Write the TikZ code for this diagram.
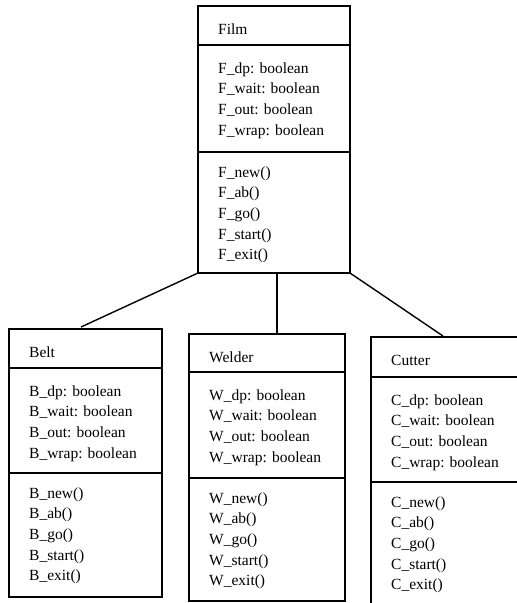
\documentclass[tikz,border=0pt]{standalone}
\usepackage{fontspec}
\setmainfont{Liberation Serif}
\newcommand\umlclass[9]{%
  % #1 name, #2 left, #3 right, #4 top, #5 div1, #6 div2, #7 bottom, #8 letter, #9 title
  \node[box, minimum width={#3-#2}, minimum height={#7-#4}] (#1) at (#2,#4) {};
  \draw[rule] (#2,#5) -- (#3,#5);
  \draw[rule] (#2,#6) -- (#3,#6);
  \node[txt] (#1-title) at ({#2+20},{#4+28.5}) {#9};
  \foreach \t [count=\i from 0] in {#8\_dp: boolean, #8\_wait: boolean, #8\_out: boolean, #8\_wrap: boolean}
    \node[txt] (#1-a\i) at ({#2+20},{#5+28+20.7*\i}) {\t};
  \foreach \t [count=\i from 0] in {#8\_new(), #8\_ab(), #8\_go(), #8\_start(), #8\_exit()}
    \node[txt] (#1-m\i) at ({#2+20},{#6+25+20.7*\i}) {\t};
}
\begin{document}
\begin{tikzpicture}[x=1pt,y=-1pt,
  box/.style={draw, line width=1.4pt, inner sep=0, outer sep=0, anchor=north west},
  rule/.style={line width=1.4pt},
  txt/.style={anchor=base west, inner sep=0, font=\fontsize{15.5}{18}\selectfont},
  conn/.style={line width=1.4pt}]
\useasboundingbox (0,0) rectangle (517,603);
\clip (0,0) rectangle (517,603);
\umlclass{film}{198}{350}{6}{45}{152}{273}{F}{Film}
\umlclass{belt}{9}{162}{329}{368}{473}{597}{B}{Belt}
\umlclass{welder}{189}{345}{334}{372}{478}{601}{W}{Welder}
\umlclass{cutter}{371}{540}{337}{377}{482}{620}{C}{Cutter}
\coordinate (beltin) at (81,327);
\coordinate (cutin) at (443,336);
\coordinate (filmmid) at (277,273);
\draw[conn] (film.south west) -- (beltin);
\draw[conn] (filmmid) -- (filmmid |- welder.north);
\draw[conn] (film.south east) -- (cutin);
\end{tikzpicture}
\end{document}
